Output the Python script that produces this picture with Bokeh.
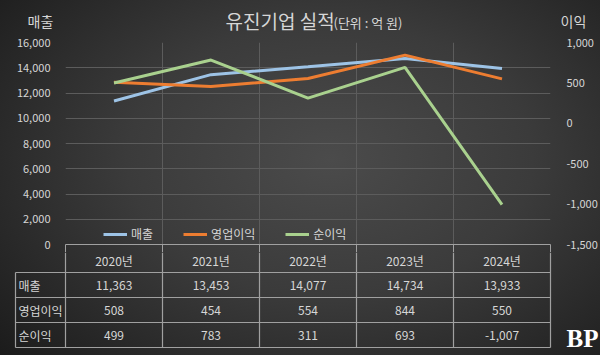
from bokeh.plotting import figure
from bokeh.models import (Range1d, LinearAxis, FixedTicker, NumeralTickFormatter,
                          Legend, LegendItem, ColumnDataSource)
from bokeh.layouts import column
from bokeh.core.properties import value
from bokeh.embed import file_html
from bokeh.resources import INLINE

years = ["2020년", "2021년", "2022년", "2023년", "2024년"]
sales = [11363, 13453, 14077, 14734, 13933]
op_profit = [508, 454, 554, 844, 550]
net_profit = [499, 783, 311, 693, -1007]
row_names = ["매출", "영업이익", "순이익"]
left_ticks = [0, 2000, 4000, 6000, 8000, 10000, 12000, 14000, 16000]
right_ticks = [-1500, -1000, -500, 0, 500, 1000]

FONT = "Noto Sans CJK KR"
TXT = "#d6d6d6"
GRID = "#5c5c5c"
TBL = "#a0a0a0"
C_SALES = "#9dc3e6"
C_OP = "#ed7d31"
C_NET = "#a9d18e"

xs = [i + 0.5 for i in range(len(years))]

def blank(h, xr, yr):
    f = figure(width=600, height=h, x_range=xr, y_range=yr,
               output_backend="svg", toolbar_location=None,
               min_border_left=0, min_border_right=0, min_border_top=0, min_border_bottom=0,
               x_axis_location=None, y_axis_location=None,
               background_fill_alpha=0, border_fill_alpha=0, outline_line_color=None)
    f.grid.visible = False
    f.frame_align = False
    return f

# ---- header (titles) ----
p0 = blank(35, Range1d(0, 600), Range1d(35, 0))
p0.text(x=[225], y=[20], text=["유진기업 실적"], text_color=TXT, text_font=value(FONT),
        text_font_size="19px", text_align="left", text_baseline="middle")
p0.text(x=[333], y=[22], text=["(단위 : 억 원)"], text_color=TXT, text_font=value(FONT),
        text_font_size="13px", text_align="left", text_baseline="middle")
p0.text(x=[27], y=[20], text=["매출"], text_color=TXT, text_font=value(FONT),
        text_font_size="14px", text_align="left", text_baseline="middle")
p0.text(x=[560], y=[20], text=["이익"], text_color=TXT, text_font=value(FONT),
        text_font_size="14px", text_align="left", text_baseline="middle")

# ---- chart ----
p1 = figure(width=600, height=217, x_range=Range1d(0, 5), y_range=Range1d(0, 16000),
            output_backend="svg", toolbar_location=None,
            min_border_left=65, min_border_right=50, min_border_top=7, min_border_bottom=0,
            background_fill_alpha=0, border_fill_alpha=0, outline_line_color=None)
p1.frame_align = False
p1.extra_y_ranges = {"profit": Range1d(-1500, 1000)}

ya = p1.yaxis[0]
ya.ticker = FixedTicker(ticks=left_ticks)
ya.formatter = NumeralTickFormatter(format="0,0")
ya.axis_line_color = None
ya.major_tick_line_color = None
ya.minor_tick_line_color = None
ya.major_label_text_color = TXT
ya.major_label_text_font = FONT
ya.major_label_text_font_size = "11px"
ya.major_label_standoff = 9

ra = LinearAxis(y_range_name="profit", ticker=FixedTicker(ticks=right_ticks),
                formatter=NumeralTickFormatter(format="0,0"))
ra.axis_line_color = None
ra.major_tick_line_color = None
ra.minor_tick_line_color = None
ra.major_label_text_color = TXT
ra.major_label_text_font = FONT
ra.major_label_text_font_size = "11px"
ra.major_label_standoff = 10
p1.add_layout(ra, "right")

xa = p1.xaxis[0]
xa.ticker = FixedTicker(ticks=[0, 1, 2, 3, 4, 5])
xa.major_label_overrides = {i: "" for i in range(6)}
xa.major_label_text_font_size = "1px"
xa.major_label_standoff = 0
xa.major_tick_in = 0
xa.major_tick_out = 8
xa.major_tick_line_color = TBL
xa.axis_line_color = TBL
xa.minor_tick_line_color = None

p1.ygrid.ticker = FixedTicker(ticks=left_ticks)
p1.ygrid.grid_line_color = GRID
p1.xgrid.ticker = FixedTicker(ticks=[0, 1, 2, 3, 4, 5])
p1.xgrid.grid_line_color = GRID

src = ColumnDataSource(dict(x=xs, sales=sales, op=op_profit, net=net_profit))
r1 = p1.line("x", "sales", source=src, line_color=C_SALES, line_width=3)
r2 = p1.line("x", "op", source=src, line_color=C_OP, line_width=3, y_range_name="profit")
r3 = p1.line("x", "net", source=src, line_color=C_NET, line_width=3, y_range_name="profit")

legend = Legend(items=[LegendItem(label="매출", renderers=[r1]),
                       LegendItem(label="영업이익", renderers=[r2]),
                       LegendItem(label="순이익", renderers=[r3])],
                orientation="horizontal", location=(38, 2),
                background_fill_alpha=0, border_line_color=None,
                label_text_color=TXT, label_text_font=FONT, label_text_font_size="12px",
                glyph_width=24, glyph_height=14, label_standoff=4, spacing=30,
                padding=0, margin=0)
p1.add_layout(legend)

# ---- table ----
p2 = blank(103, Range1d(-65 / 97, 5 + 50 / 97), Range1d(103, 0))

lx = -50 / 97
row_lines = [20, 45, 70, 95]
vx = [0, 1, 2, 3, 4, 5]
p2.segment(x0=vx, y0=[0] * 6, x1=vx, y1=[95] * 6, line_color=TBL, line_width=1.2)
p2.segment(x0=[lx], y0=[20], x1=[lx], y1=[95], line_color=TBL, line_width=1.2)
p2.segment(x0=[lx] * 4, y0=row_lines, x1=[5] * 4, y1=row_lines, line_color=TBL, line_width=1.2)

p2.text(x=xs, y=[8] * 5, text=years, text_color=TXT, text_font=value(FONT),
        text_font_size="12px", text_align="center", text_baseline="middle")
row_y = [32.5, 57.5, 82.5]
for vals, yy in zip([sales, op_profit, net_profit], row_y):
    p2.text(x=xs, y=[yy] * 5, text=[f"{v:,}" for v in vals], text_color=TXT,
            text_font=value(FONT), text_font_size="12px",
            text_align="center", text_baseline="middle")
p2.text(x=[lx] * 3, y=row_y, text=row_names, x_offset=3, text_color=TXT,
        text_font=value(FONT), text_font_size="12px", text_align="left",
        text_baseline="middle")
p2.text(x=[5], y=[86], text=["BP"], x_offset=32, text_color="#ffffff",
        text_font=value("Liberation Serif"), text_font_style="bold",
        text_font_size="25px", text_align="center", text_baseline="middle")

layout = column(p0, p1, p2, spacing=0, width=600, height=355,
                styles={"background": "radial-gradient(ellipse 75% 85% at 55% 45%, #4b4b4b 0%, #3b3b3b 45%, #262626 80%, #1a1a1a 100%)"})

open("out.html", "w").write(file_html(layout, INLINE))
